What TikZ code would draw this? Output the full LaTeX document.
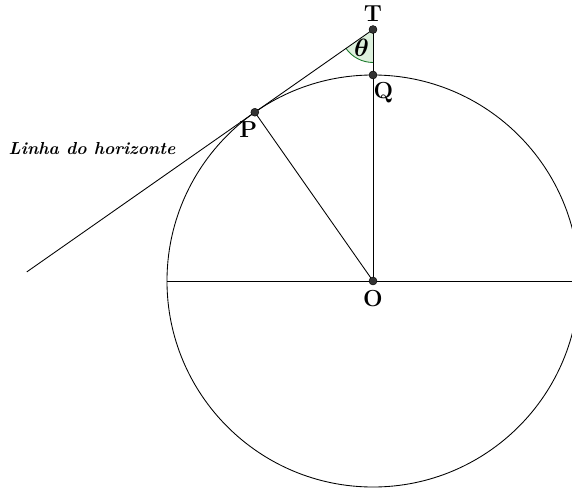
\documentclass[tikz,border=0pt]{standalone}
\usepackage{amsmath, amssymb}
\usepackage{xcolor}
\usepackage{tikz}
\usetikzlibrary{arrows.meta, positioning, calc}
\definecolor{anglegreen}{HTML}{1B7A2A}
\definecolor{anglefill}{HTML}{DDF0DD}
\definecolor{dotgray}{HTML}{333333}

\begin{document}
\begin{tikzpicture}[>=Stealth, line width=0.6pt,
    dot/.style={circle, fill=dotgray, draw=black, line width=0.3pt, inner sep=0pt, minimum size=5.5pt},
    lbl/.style={font=\fontsize{16}{18}\selectfont\bfseries, inner sep=1pt}]
    \useasboundingbox (-9.053,-5.024) rectangle (4.830,6.820);
    \clip (-9.053,-5.024) rectangle (4.830,6.820);

    % ── POINTS ────────────────────────────────────────────────────────
    \coordinate (O) at (0,0);
    \coordinate (P) at (125:5);
    \coordinate (Q) at (0,5);
    \coordinate (T) at (0,{5/cos(35)});
    \coordinate (H) at ($(T)!2.93!(P)$);
    \coordinate (W) at (-5,0);
    \coordinate (E) at (5,0);

    % ── ANGLE THETA ───────────────────────────────────────────────────
    \fill[anglefill] (T) -- ++(215:0.8) arc (215:270:0.8) -- cycle;
    \draw[anglegreen] ($(T)+(215:0.8)$) arc (215:270:0.8);
    \node[font=\fontsize{16}{18}\selectfont] (theta) at ($(T)+(238:0.52)$) {$\boldsymbol{\theta}$};

    % ── CIRCLE AND SEGMENTS ───────────────────────────────────────────
    \draw (O) circle (5);
    \draw (W) -- (E);
    \draw (O) -- (T);
    \draw (O) -- (P);
    \draw (T) -- (H);

    % ── DOTS AND LABELS ───────────────────────────────────────────────
    \node[dot] (dT) at (T) {};
    \node[dot] (dQ) at (Q) {};
    \node[dot] (dP) at (P) {};
    \node[dot] (dO) at (O) {};
    \node[lbl, above=1.5pt of dT] (lT) {T};
    \node[lbl, below right=2pt and -3pt of dQ] (lQ) {Q};
    \node[lbl, below left=3pt and -5pt of dP] (lP) {P};
    \node[lbl, below=2pt of dO] (lO) {O};
    \node[font=\large\bfseries\itshape] (hor) at (-6.82,3.22) {Linha do horizonte};
\end{tikzpicture}
\end{document}
